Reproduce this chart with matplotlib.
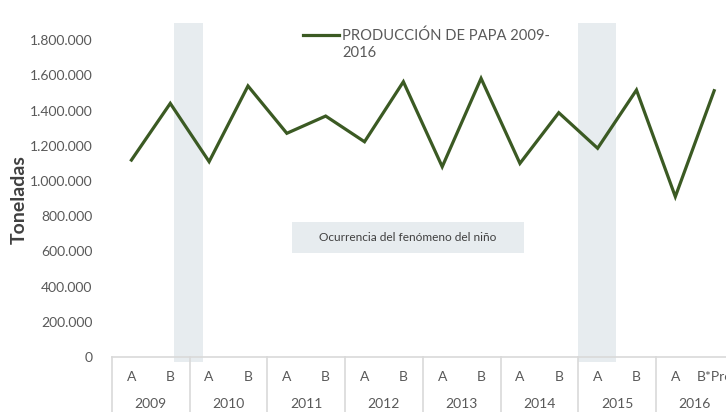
import matplotlib
matplotlib.use('Agg')
import matplotlib.pyplot as plt
from matplotlib.lines import Line2D
from matplotlib.patches import Rectangle
from matplotlib.ticker import FuncFormatter

plt.rcParams['font.family'] = ['Lato', 'DejaVu Sans']

# data
years = ['2009', '2010', '2011', '2012', '2013', '2014', '2015', '2016']
semesters = ['A', 'B', 'A', 'B', 'A', 'B', 'A', 'B',
             'A', 'B', 'A', 'B', 'A', 'B', 'A', 'B*Pre']
production = [1119000, 1441000, 1110000, 1540000, 1271000, 1369000,
              1223000, 1564000, 1081000, 1583000, 1100000, 1388000,
              1186000, 1517000, 911000, 1513000]
nino_spans = [(1.1, 1.83), (11.5, 12.47)]

line_col = '#3B5A23'
text_col = '#595959'
shade = '#E7ECEF'
grid_col = '#D9D9D9'

W, H = 726, 412
fig = plt.figure(figsize=(W / 100, H / 100), dpi=100)
# axes run past the right edge, as in the cropped original
ax = fig.add_axes([112 / W, (H - 357) / H, (733.6 - 112) / W, (357 - 22.6) / H])

x = list(range(len(production)))
for a, b in nino_spans:
    ax.axvspan(a, b, ymin=-0.015, ymax=1, color=shade, lw=0, clip_on=False, zorder=0)
ax.plot(x, production, color=line_col, lw=2.3, solid_joinstyle='miter', zorder=3)

ax.set_xlim(-0.5, len(production) - 0.5)
ax.set_ylim(0, 1900000)
ax.set_yticks(range(0, 1800001, 200000))
ax.yaxis.set_major_formatter(FuncFormatter(lambda v, p: f'{int(v):,}'.replace(',', '.')))
ax.tick_params(axis='y', length=0, pad=14, labelsize=10, labelcolor=text_col)

ax.set_xticks(x)
ax.set_xticklabels(semesters)
ax.tick_params(axis='x', length=0, pad=10, labelsize=10, labelcolor=text_col)

for s in ['top', 'right', 'left']:
    ax.spines[s].set_visible(False)
ax.spines['bottom'].set_color(grid_col)
ax.spines['bottom'].set_linewidth(1.2)

# multi-level category axis: year labels and separators
tr = ax.get_xaxis_transform()
for i, yr in enumerate(years):
    ax.text(2 * i + 0.5, -0.141, yr, transform=tr, ha='center', va='center',
            fontsize=10, color=text_col)
for i in range(len(years) + 1):
    ax.add_line(Line2D([2 * i - 0.5, 2 * i - 0.5], [0, -0.2], transform=tr,
                       color=grid_col, lw=1.2, clip_on=False))

ax.set_ylabel('Toneladas', fontsize=14, fontweight='bold', color='#404040')
ax.yaxis.set_label_coords(-0.135, 0.47)

# legend drawn by hand so the key lines up with the first text row
fig.add_artist(Line2D([303 / W, 339 / W], [1 - 35 / H, 1 - 35 / H], color=line_col, lw=2.3))
fig.text(342 / W, 1 - 28 / H, 'PRODUCCIÓN DE PAPA 2009-\n2016', ha='left', va='top',
         fontsize=10.6, color=text_col, linespacing=1.3)

# annotation box
fig.add_artist(Rectangle((292 / W, 1 - 253 / H), (524 - 292) / W, 31 / H,
                         transform=fig.transFigure, color=shade, lw=0))
fig.text(408 / W, 1 - 237.5 / H, 'Ocurrencia del fenómeno del niño', ha='center',
         va='center', fontsize=8.6, color='#404040')

fig.savefig('out.png', dpi=100)
